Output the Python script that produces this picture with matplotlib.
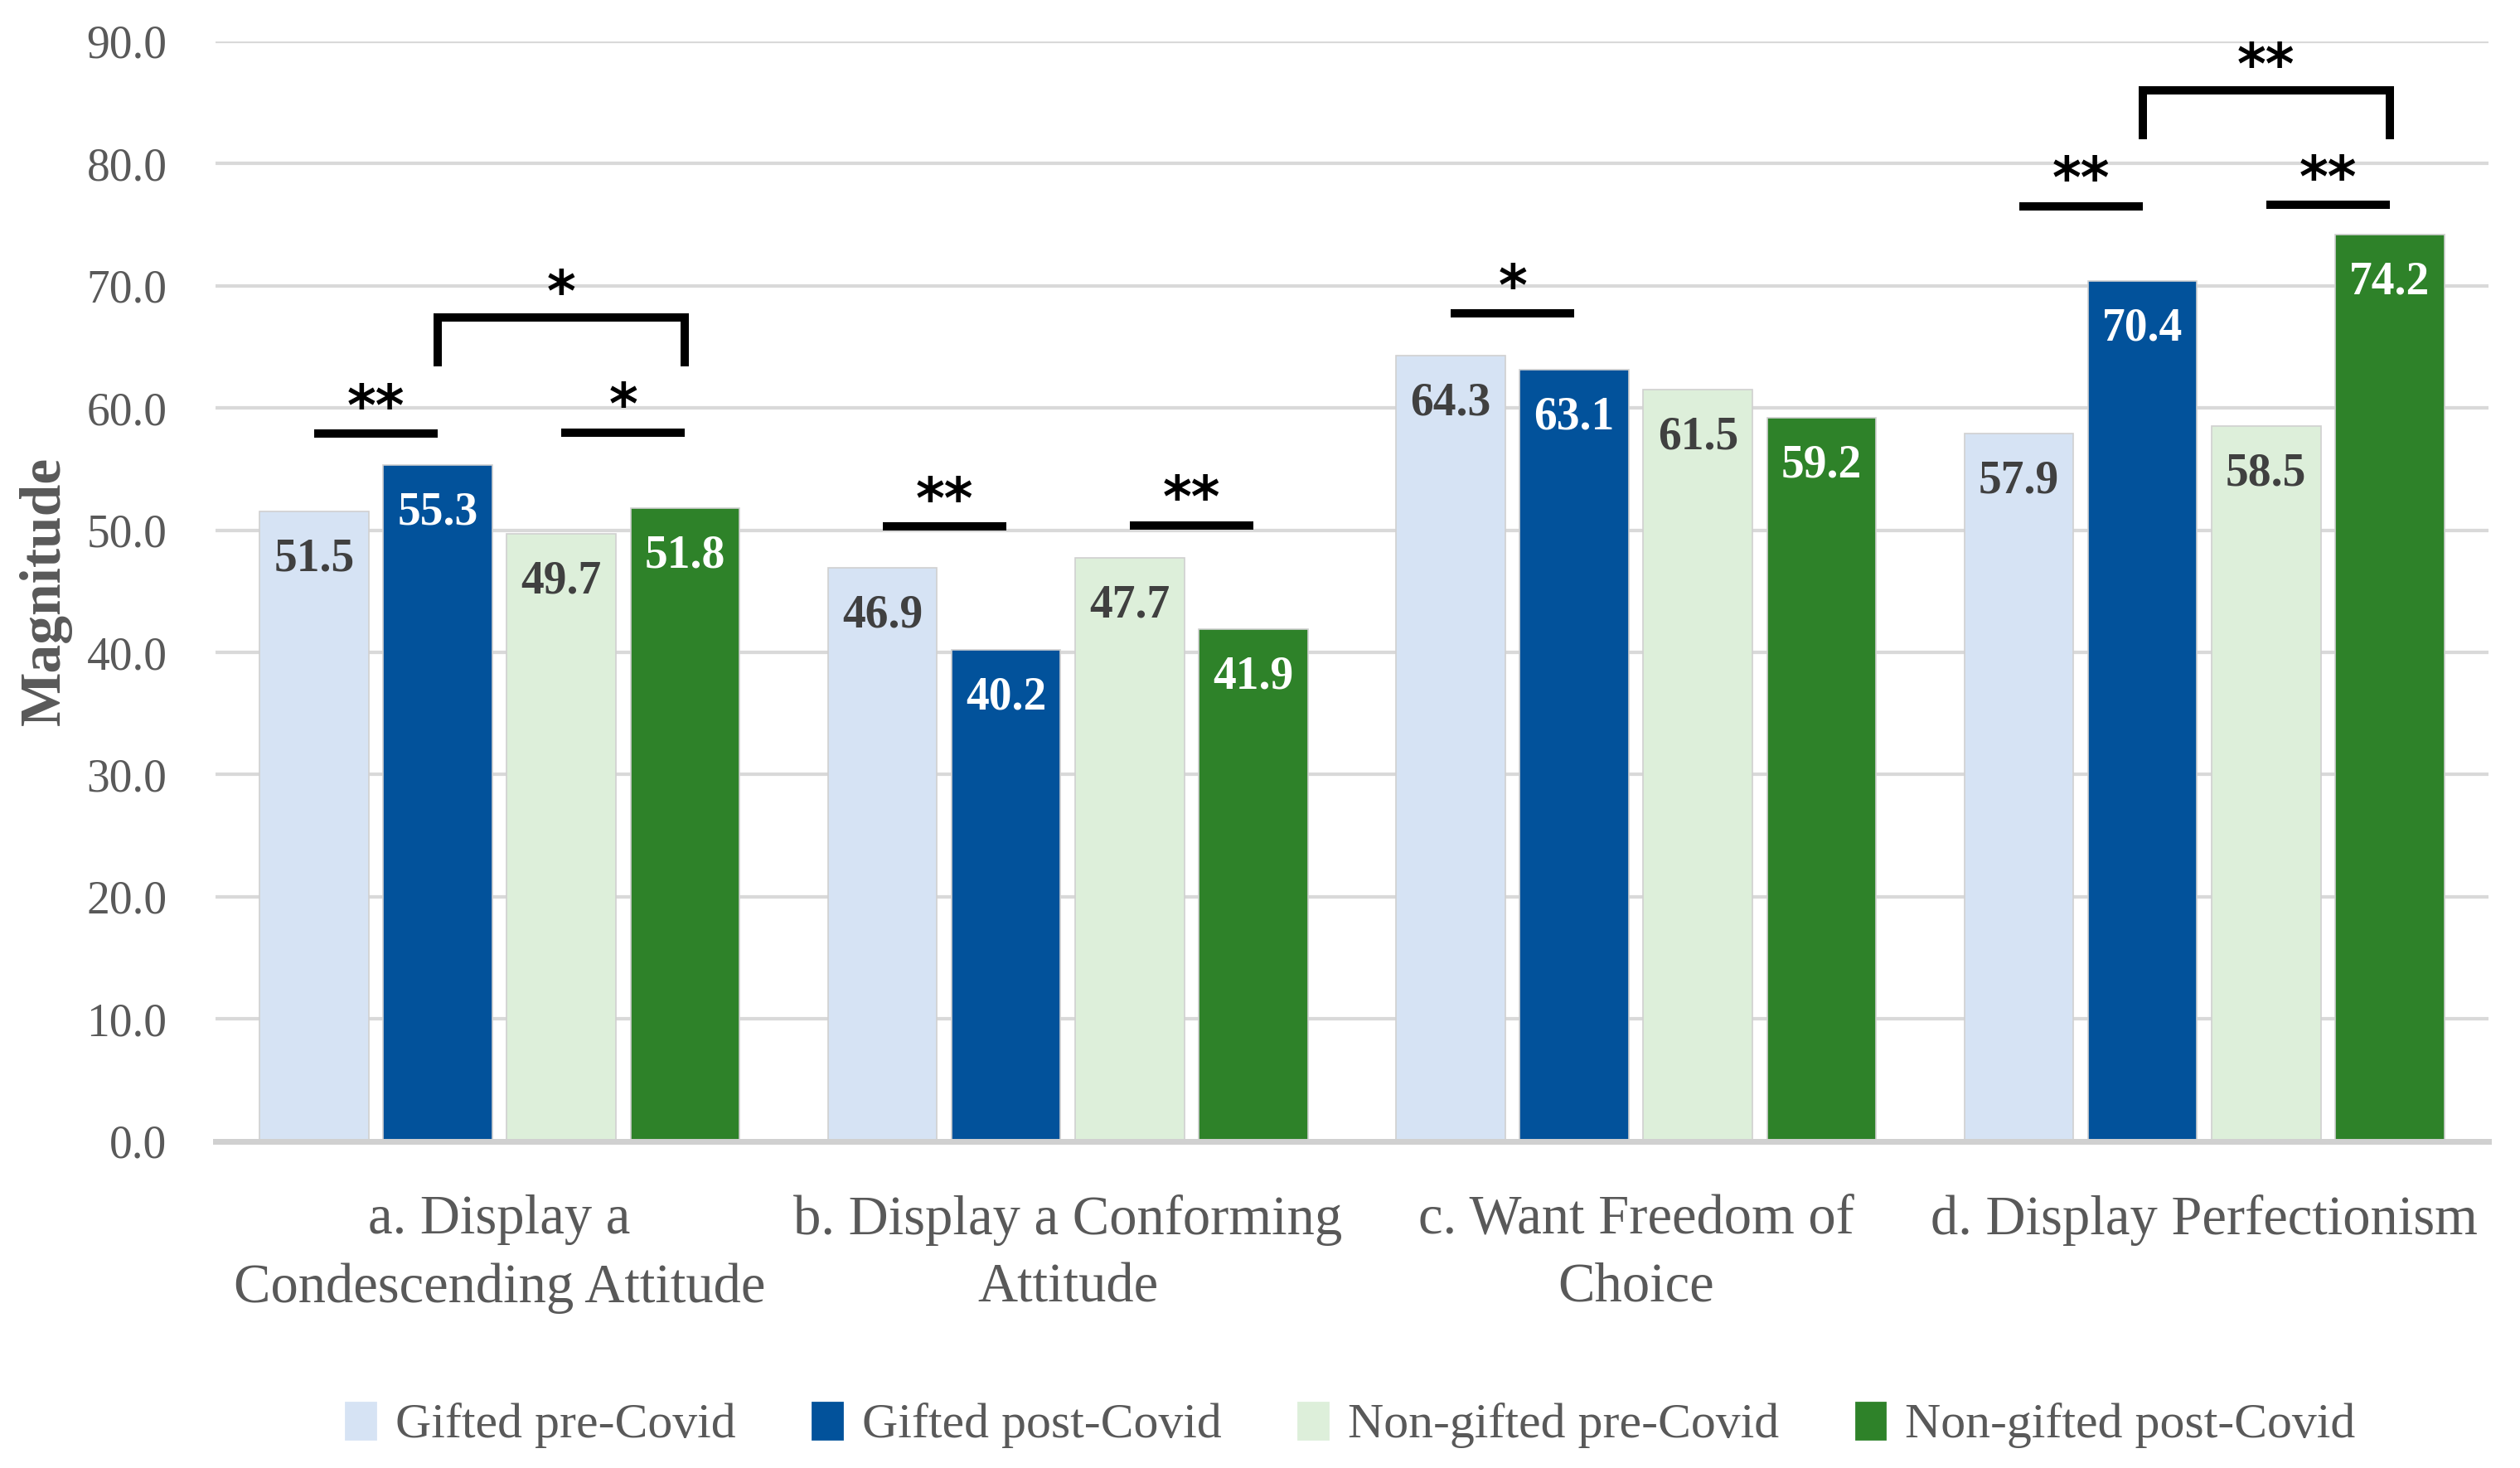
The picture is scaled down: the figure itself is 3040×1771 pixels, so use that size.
import numpy as np
import matplotlib.pyplot as plt
from matplotlib.patches import Patch

categories = ["a. Display a\nCondescending Attitude",
              "b. Display a Conforming\nAttitude",
              "c. Want Freedom of\nChoice",
              "d. Display Perfectionism"]
series = ["Gifted pre-Covid", "Gifted post-Covid",
          "Non-gifted pre-Covid", "Non-gifted post-Covid"]
gifted_pre = [51.5, 46.9, 64.3, 57.9]
gifted_post = [55.3, 40.2, 63.1, 70.4]
nongifted_pre = [49.7, 47.7, 61.5, 58.5]
nongifted_post = [51.8, 41.9, 59.2, 74.2]
values = [gifted_pre, gifted_post, nongifted_pre, nongifted_post]

# significance marks: category, bar from, bar to, height, label, bracket or plain line
sig_cat = [0, 0, 0, 1, 1, 2, 3, 3, 3]
sig_from = [0, 2, 1, 0, 2, 0, 0, 2, 1]
sig_to = [1, 3, 3, 1, 3, 1, 1, 3, 3]
sig_y = [57.9, 58.0, 67.4, 50.3, 50.4, 67.7, 76.5, 76.6, 86.0]
sig_lab = ["**", "*", "*", "**", "**", "*", "**", "**", "**"]
sig_bracket = [False, False, True, False, False, False, False, False, True]

colors = ["#D6E3F4", "#02529B", "#DDEFDA", "#2E8229"]
label_colors = ["#404040", "white", "#404040", "white"]

plt.rcParams['font.family'] = ['Liberation Serif', 'DejaVu Serif']

fig = plt.figure(figsize=(15.2, 8.855), dpi=200)
ax = fig.add_axes([0.0855, 0.2225, 0.902, 0.7495])

step = 0.2175
width = 0.192
x = np.arange(len(categories))

for i in range(4):
    pos = x + (i - 1.5) * step
    ax.bar(pos, values[i], width, color=colors[i], zorder=3,
           edgecolor="#D0D0D0", linewidth=0.6)
    for p, v in zip(pos, values[i]):
        ax.text(p, v - 3.9, f"{v:.1f}", ha="center", va="center",
                fontsize=20, fontweight="bold", color=label_colors[i], zorder=4)

for c, a, b, y, lab, br in zip(sig_cat, sig_from, sig_to, sig_y, sig_lab, sig_bracket):
    x0 = c + (a - 1.5) * step
    x1 = c + (b - 1.5) * step
    if br:
        ax.plot([x0, x0, x1, x1], [y - 4.0, y, y, y - 4.0], color="black",
                lw=3.6, solid_joinstyle="miter", solid_capstyle="butt", zorder=5)
        ty = y + 1.8
    else:
        ax.plot([x0, x1], [y, y], color="black", lw=3.6,
                solid_capstyle="butt", zorder=5)
        ty = y + 2.0
    ax.text((x0 + x1) / 2, ty, lab, ha="center", va="center", fontsize=24,
            fontweight="bold", family="DejaVu Sans", color="black", zorder=5)

ax.set_xlim(-0.5, 3.5)
ax.set_ylim(0, 90)
ax.set_yticks(np.arange(0, 91, 10))
ax.set_yticklabels([f"{t:.1f}" for t in np.arange(0, 91, 10)])
ax.set_xticks(x)
ax.set_xticklabels(categories, linespacing=1.45)
ax.tick_params(axis="y", length=0, pad=21, labelsize=20, labelcolor="#595959")
ax.tick_params(axis="x", length=0, pad=23, labelsize=24, labelcolor="#595959")
ax.grid(axis="y", color="#D9D9D9", lw=1.5, zorder=0)
for s in ["top", "right", "left"]:
    ax.spines[s].set_visible(False)
ax.spines["bottom"].set_color("#D0D0D0")
ax.spines["bottom"].set_linewidth(2.5)
ax.spines["bottom"].set_zorder(6)

ax.set_ylabel("Magnitude", fontsize=25, fontweight="bold", color="#595959")
ax.yaxis.set_label_coords(-0.063, 0.5)

handles = [Patch(color=colors[i]) for i in range(4)]
fig.legend(handles, series, loc="center", bbox_to_anchor=(0.536, 0.029), ncol=4,
           frameon=False, fontsize=21.5, handlelength=0.6, handleheight=0.75,
           handletextpad=0.4, columnspacing=1.55, labelcolor="#595959")

fig.savefig("out.png", dpi=200)
